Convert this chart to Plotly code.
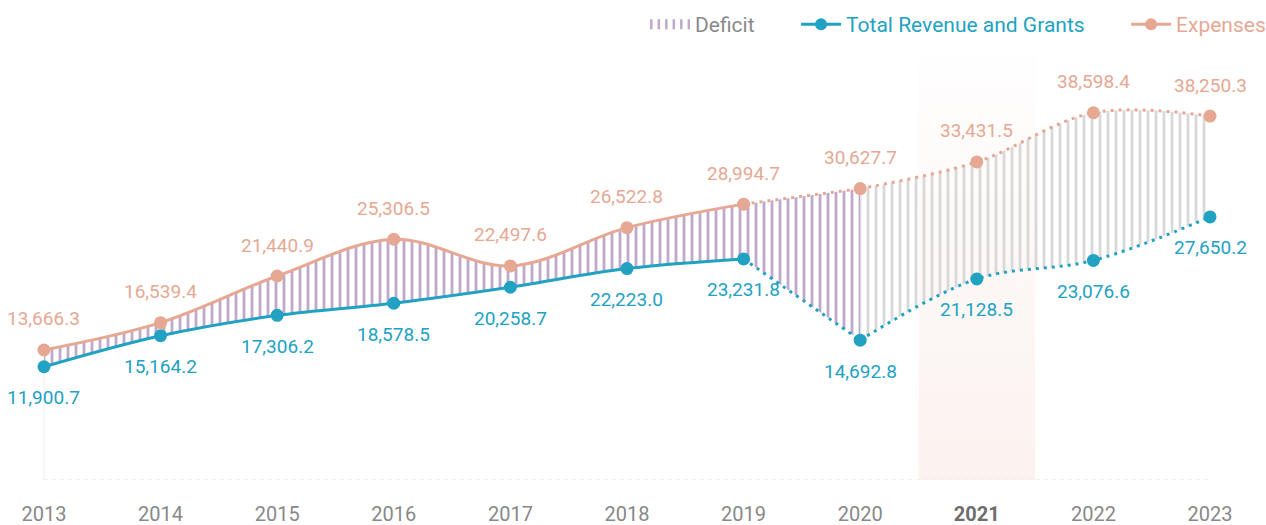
import plotly.graph_objects as go

# data
years = [2013, 2014, 2015, 2016, 2017, 2018, 2019, 2020, 2021, 2022, 2023]
revenue = [11900.7, 15164.2, 17306.2, 18578.5, 20258.7, 22223.0,
           23231.8, 14692.8, 21128.5, 23076.6, 27650.2]
expenses = [13666.3, 16539.4, 21440.9, 25306.5, 22497.6, 26522.8,
            28994.7, 30627.7, 33431.5, 38598.4, 38250.3]
tick_text = ['2013', '2014', '2015', '2016', '2017', '2018',
             '2019', '2020', '<b style="color:#6e6e6e">2021</b>', '2022', '2023']
highlight_year = 2021
last_actual = 2019      # solid lines up to here, dotted after
deficit_split = 2020    # purple hatch up to here, grey after

TEAL = '#21a2c3'
SALMON = '#e6a893'
PURPLE = '#c0a8cb'
GREY_HATCH = '#d8d8d8'
FONT = 'Roboto'
YMAX = 44670
GAP = '&nbsp;' * 7

fig = go.Figure()

# highlighted year band
h = highlight_year
fig.add_trace(go.Scatter(
    x=[h - 0.5, h + 0.5, h + 0.5, h - 0.5, h - 0.5],
    y=[0, 0, YMAX, YMAX, 0],
    mode='lines', line=dict(width=0), fill='toself',
    fillgradient=dict(type='vertical', start=0, stop=YMAX,
                      colorscale=[[0, 'rgba(249,234,229,0.6)'],
                                  [1, 'rgba(249,234,229,0.05)']]),
    showlegend=False, hoverinfo='skip'))

i_act = years.index(last_actual)
i_split = years.index(deficit_split)
segments = [
    (0, i_act, 'solid', PURPLE),
    (i_act, i_split, '3px,5px', PURPLE),
    (i_split, len(years) - 1, '3px,5px', GREY_HATCH),
]

for i0, i1, dash, hatch in segments:
    xs = years[i0:i1 + 1]
    fig.add_trace(go.Scatter(
        x=xs, y=revenue[i0:i1 + 1], mode='lines',
        line=dict(color=TEAL, width=3, shape='spline', dash=dash),
        showlegend=False, hoverinfo='skip'))
    fig.add_trace(go.Scatter(
        x=xs, y=expenses[i0:i1 + 1], mode='lines',
        line=dict(color=SALMON, width=3, shape='spline', dash=dash),
        fill='tonexty', fillcolor='rgba(0,0,0,0)',
        fillpattern=dict(shape='|', size=8, solidity=0.35,
                         fgcolor=hatch, bgcolor='rgba(0,0,0,0)', fgopacity=1),
        showlegend=False, hoverinfo='skip'))

# markers
fig.add_trace(go.Scatter(x=years, y=revenue, mode='markers',
                         marker=dict(color=TEAL, size=13),
                         showlegend=False))
fig.add_trace(go.Scatter(x=years, y=expenses, mode='markers',
                         marker=dict(color=SALMON, size=13),
                         showlegend=False))

# legend entries
fig.add_trace(go.Scatter(
    x=[None], y=[None], mode='lines',
    line=dict(color=PURPLE, width=14, dash='2.5px,5px'),
    name='<span style="color:#8a8a8a">Deficit</span>' + GAP))
fig.add_trace(go.Scatter(
    x=[None], y=[None], mode='lines+markers',
    line=dict(color=TEAL, width=3), marker=dict(color=TEAL, size=12),
    name='<span style="color:%s">Total Revenue and Grants</span>' % TEAL + GAP))
fig.add_trace(go.Scatter(
    x=[None], y=[None], mode='lines+markers',
    line=dict(color=SALMON, width=3), marker=dict(color=SALMON, size=12),
    name='<span style="color:%s">Expenses</span>' % SALMON))

# value labels
annotations = []
for x, r, e in zip(years, revenue, expenses):
    annotations.append(dict(x=x, y=e, text=f'{e:,.1f}', showarrow=False,
                            yshift=31, font=dict(color=SALMON, size=19, family=FONT)))
    annotations.append(dict(x=x, y=r, text=f'{r:,.1f}', showarrow=False,
                            yshift=-31, font=dict(color=TEAL, size=19, family=FONT)))

shapes = [
    dict(type='line', x0=years[0], x1=years[-1], y0=0, y1=0, layer='below',
         line=dict(color='#e2e2e2', width=1, dash='4px,4px')),
    dict(type='line', x0=years[0], x1=years[0], y0=0, y1=revenue[0], layer='below',
         line=dict(color='#eeeeee', width=1)),
]

fig.update_layout(
    width=1266, height=525,
    margin=dict(l=0, r=0, t=55, b=45, autoexpand=False),
    plot_bgcolor='white', paper_bgcolor='white',
    font=dict(family=FONT, size=20, color='#888888'),
    annotations=annotations, shapes=shapes,
    legend=dict(orientation='h', x=1.004, xanchor='right', y=1.12, yanchor='top',
                traceorder='normal',
                font=dict(size=21, family=FONT), bgcolor='rgba(0,0,0,0)',
                itemwidth=40),
    hovermode=False,
)
fig.update_xaxes(range=[2012.623, 2023.48], showgrid=False, zeroline=False,
                 showline=False, tickvals=years, ticktext=tick_text,
                 ticks='', ticklabelstandoff=20,
                 tickfont=dict(size=20, color='#888888', family=FONT))
fig.update_yaxes(range=[0, YMAX], visible=False)

fig.write_html("out.html", config={'displayModeBar': False},
               post_script="document.body.style.margin='0';")
